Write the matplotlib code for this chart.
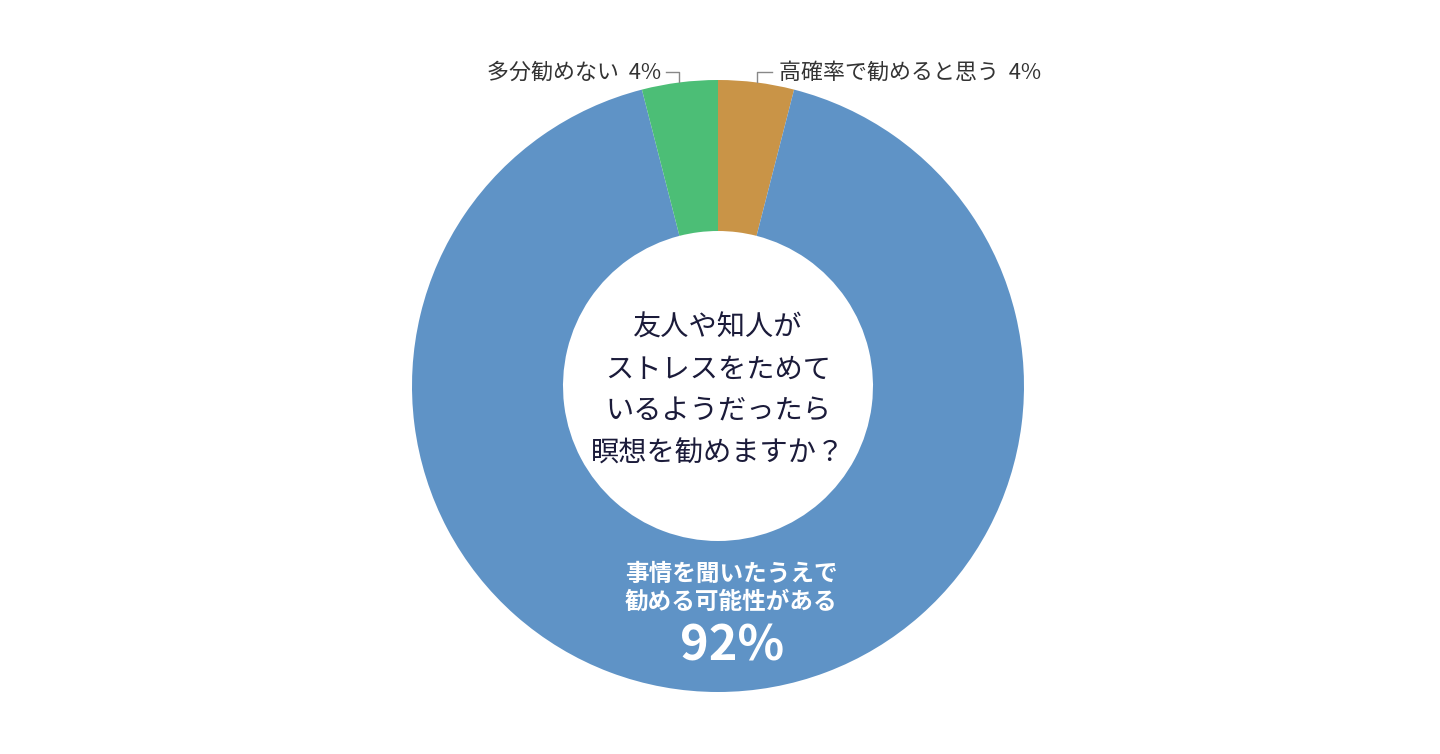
import matplotlib
matplotlib.use("Agg")
import matplotlib.pyplot as plt

plt.rcParams['font.family'] = ['Noto Sans CJK JP', 'DejaVu Sans']

labels = ["高確率で勧めると思う", "事情を聞いたうえで\n勧める可能性がある", "多分勧めない"]
values = [4, 92, 4]
colors = ["#C99447", "#5F93C6", "#4CBE76"]
center_text = "友人や知人が\nストレスをためて\nいるようだったら\n瞑想を勧めますか？"

W, H = 1440, 754
fig = plt.figure(figsize=(W / 100, H / 100), dpi=100)
ax = fig.add_axes([0, 0, 1, 1])

cx, cy = 718, H - 386
R, w = 306, 151
ax.pie(values, colors=colors, startangle=90, counterclock=False,
       center=(cx, cy), radius=R, wedgeprops=dict(width=w, linewidth=0),
       frame=True)
ax.set_xlim(0, W)
ax.set_ylim(0, H)
ax.set_aspect('equal')
ax.axis('off')

ax.text(cx, cy - 5, center_text, ha='center', va='center', fontsize=20.3,
        color='#1B1B3A', linespacing=1.52)

# blue label
ax.text(cx + 13, H - 588, labels[1], ha='center', va='center', fontsize=17,
        color='white', fontweight='bold', linespacing=1.22)
ax.text(cx + 14, H - 646, f"{values[1]}%", ha='center', va='center', fontsize=35,
        color='white', fontweight='bold')

# outer labels
lc = '#888888'
ax.plot([757, 757, 772], [H - 82, H - 72, H - 72], color=lc, lw=1)
ax.text(779, H - 73, f"{labels[0]}  {values[0]}%", ha='left', va='center',
        fontsize=15.8, color='#333333')
ax.plot([666, 679, 679], [H - 72, H - 72, H - 82], color=lc, lw=1)
ax.text(661, H - 73, f"{labels[2]}  {values[2]}%", ha='right', va='center',
        fontsize=15.8, color='#333333')

fig.savefig("out.png", dpi=100, facecolor='white')
